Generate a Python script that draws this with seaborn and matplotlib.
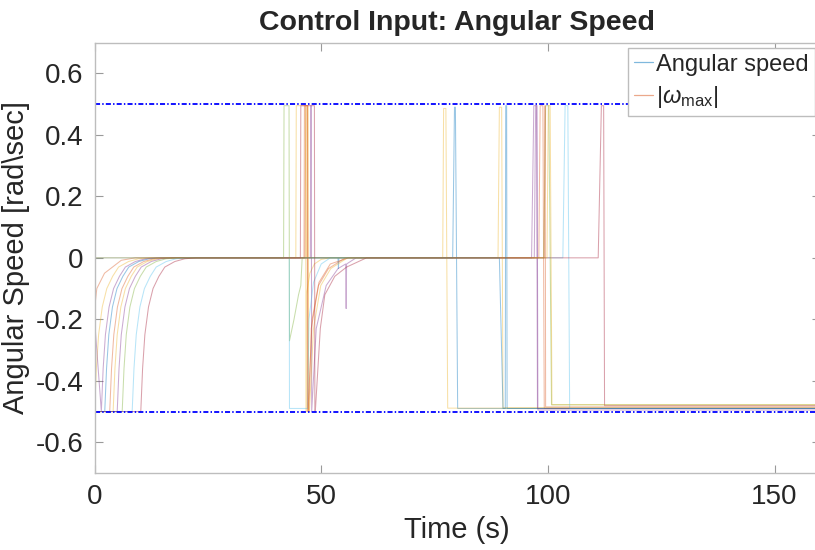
import matplotlib
matplotlib.use("Agg")
import matplotlib.pyplot as plt
from matplotlib.lines import Line2D
from matplotlib.ticker import FuncFormatter
import pandas as pd
import seaborn as sns

# MATLAB default line colours
C_BLUE, C_ORANGE, C_YELLOW = "#0072BD", "#D95319", "#EDB120"
C_PURPLE, C_GREEN, C_CYAN, C_RED = "#7E2F8E", "#77AC30", "#4DBEEE", "#A2142F"

w_max = 0.5

# angular speed traces, one per robot (time [s], omega [rad/s])
t_01 = [0, 2.25, 2.65, 3.15, 3.95, 4.95, 6.25, 7.55, 9.75, 12.0, 14.5, 53.7, 53.8, 53.9, 79.0, 79.4, 79.6, 80.1, 160]
w_01 = [-0.5, -0.5, -0.36, -0.25, -0.16, -0.1, -0.06, -0.03, -0.012, -0.003, 0, 0, -0.035, 0, 0, 0.49, 0.49, -0.49, -0.49]

t_02 = [0, 3.35, 3.75, 4.25, 5.05, 6.05, 7.35, 8.65, 10.85, 13.1, 15.6, 46.4, 46.6, 47.0, 47.1, 47.3, 47.8, 49.4, 51.6, 55.3,
        98.0, 98.3, 98.9, 99.2, 160]
w_02 = [-0.5, -0.5, -0.36, -0.25, -0.16, -0.1, -0.06, -0.03, -0.012, -0.003, 0, 0, 0.495, 0.495, -0.5, -0.5, -0.23, -0.09, -0.035, 0,
        0, 0.495, 0.495, -0.49, -0.49]

t_03 = [0, 0.4, 0.9, 1.7, 2.7, 4.0, 5.3, 7.5, 9.7, 12.2, 44.4, 44.5, 46.5, 46.7, 46.75, 47.5, 48.5, 50.0, 52.0,
        76.8, 77.0, 77.5, 77.9, 160]
w_03 = [-0.5, -0.36, -0.25, -0.16, -0.1, -0.06, -0.03, -0.012, -0.003, 0, 0, 0.495, 0.495, -0.5, -0.12, -0.05, -0.02, -0.005, 0,
        0, 0.486, 0.486, -0.489, -0.489]

t_04 = [0, 1.5, 1.9, 2.4, 3.2, 4.2, 5.5, 6.8, 9.0, 11.2, 13.7, 47.6, 47.7, 47.8, 47.9, 48.9, 51.1, 53.7, 55.4, 55.5, 55.6, 57.7,
        96.4, 96.9, 97.6, 97.8, 160]
w_04 = [-0.2, -0.5, -0.36, -0.25, -0.16, -0.1, -0.06, -0.03, -0.012, -0.003, 0, 0, 0.495, 0.495, -0.5, -0.23, -0.09, -0.035, -0.02, -0.165, -0.02, 0,
        0, 0.495, 0.495, -0.495, -0.495]

t_05 = [0, 4.1, 4.5, 5.0, 5.8, 6.8, 8.1, 9.4, 11.6, 13.8, 16.3, 46.8, 46.9, 47.1, 47.2, 47.4, 48.3, 49.9, 52.1, 55.8,
        89.0, 89.3, 89.8, 90.1, 160]
w_05 = [-0.5, -0.5, -0.36, -0.25, -0.16, -0.1, -0.06, -0.03, -0.012, -0.003, 0, 0, 0.495, 0.495, -0.5, -0.5, -0.23, -0.09, -0.035, 0,
        0, 0.49, 0.49, -0.488, -0.488]

t_06 = [0, 5.0, 5.4, 5.9, 6.7, 7.7, 9.0, 10.3, 12.5, 14.7, 17.2, 97.0, 97.3, 97.5, 97.7, 160]
w_06 = [-0.5, -0.5, -0.36, -0.25, -0.16, -0.1, -0.06, -0.03, -0.012, -0.003, 0, 0, 0.495, 0.495, -0.49, -0.49]

t_07 = [0, 6.1, 6.5, 7.0, 7.8, 8.8, 10.1, 11.4, 13.6, 15.8, 18.3, 41.7, 41.8, 42.9, 43.0, 44.0, 45.0, 45.5, 45.8,
        99.1, 99.5, 100.2, 100.8, 160]
w_07 = [-0.5, -0.5, -0.36, -0.25, -0.16, -0.1, -0.06, -0.03, -0.012, -0.003, 0, 0, 0.495, 0.495, -0.27, -0.2, -0.12, -0.09, 0,
        0, 0.495, 0.495, -0.478, -0.478]

t_08 = [0, 8.3, 8.7, 9.2, 10.0, 11.0, 12.3, 13.6, 15.8, 18.0, 20.5, 42.95, 43.0, 47.0, 47.3, 48.3, 50.0, 52.0,
        103.3, 103.8, 104.4, 104.8, 160]
w_08 = [-0.5, -0.5, -0.36, -0.25, -0.16, -0.1, -0.06, -0.03, -0.012, -0.003, 0, 0, -0.49, -0.49, -0.2, -0.08, -0.02, 0,
        0, 0.495, 0.495, -0.49, -0.49]

t_09 = [0, 10.2, 10.6, 11.1, 11.9, 12.9, 14.2, 15.5, 17.7, 19.9, 22.4, 45.4, 45.5, 48.5, 48.6, 48.7, 49.8, 50.8, 53.0, 55.6, 60.0,
        111.1, 111.8, 112.3, 112.5, 160]
w_09 = [-0.5, -0.5, -0.36, -0.25, -0.16, -0.1, -0.06, -0.03, -0.012, -0.003, 0, 0, 0.495, 0.495, -0.5, -0.5, -0.23, -0.12, -0.06, -0.03, 0,
        0, 0.495, 0.495, -0.481, -0.481]

t_10 = [0, 0.05, 0.5, 2.2, 5.9, 9.0, 46.2, 46.3, 46.9, 47.0, 47.1, 48.0, 49.5, 52.0, 56.0,
        99.2, 99.35, 99.4, 99.5, 160]
w_10 = [-0.48, -0.16, -0.1, -0.05, -0.008, 0, 0, 0.495, 0.495, -0.5, -0.5, -0.2, -0.08, -0.02, 0,
        0, 0.495, 0.495, -0.485, -0.485]

t_11 = [0, 89.3, 90.1, 90.6, 90.7, 90.9, 91.0, 160]
w_11 = [0, 0, -0.49, -0.49, 0.495, 0.495, -0.49, -0.49]

t_12 = [0, 99.8, 100.1, 100.5, 100.9, 160]
w_12 = [0, 0, 0.495, 0.495, -0.478, -0.478]

trace_t = [t_01, t_02, t_03, t_04, t_05, t_06, t_07, t_08, t_09, t_10, t_11, t_12]
trace_w = [w_01, w_02, w_03, w_04, w_05, w_06, w_07, w_08, w_09, w_10, w_11, w_12]
trace_c = [C_BLUE, C_ORANGE, C_YELLOW, C_PURPLE, C_YELLOW, C_PURPLE,
           C_GREEN, C_CYAN, C_RED, C_ORANGE, C_BLUE, C_YELLOW]

legend_labels = ["Angular speed", r"|$\omega_{\rm max}$|"]

frames = []
for i, (tt, ww) in enumerate(zip(trace_t, trace_w)):
    frames.append(pd.DataFrame({"t": tt, "w": ww, "trace": f"r{i + 1:02d}"}))
df = pd.concat(frames, ignore_index=True)
names = [f"r{i + 1:02d}" for i in range(len(trace_t))]
palette = dict(zip(names, trace_c))

sns.set_theme(style="ticks")
plt.rcParams["font.family"] = ["Liberation Sans", "DejaVu Sans"]
plt.rcParams["axes.unicode_minus"] = False
plt.rcParams["mathtext.fontset"] = "custom"
plt.rcParams["mathtext.rm"] = "Liberation Sans"
plt.rcParams["mathtext.it"] = "Liberation Sans:italic"

fig = plt.figure(figsize=(8.15, 5.5), dpi=100)
ax = fig.add_axes([0.116, 0.14, 0.890, 0.7824])

sns.lineplot(data=df, x="t", y="w", hue="trace", hue_order=names, palette=palette,
             sort=False, estimator=None, linewidth=0.75, alpha=0.4, legend=False, ax=ax)

# saturation limits |w_max|
ax.axhline(w_max, color="blue", linestyle=(0, (2.8, 1.2, 0.8, 1.2)), linewidth=1.3)
ax.axhline(-w_max, color="blue", linestyle=(0, (2.8, 1.2, 0.8, 1.2)), linewidth=1.3)

ax.set_xlim(0, 160)
ax.set_ylim(-0.7, 0.7)
ax.set_xticks([0, 50, 100, 150])
ax.set_yticks([-0.6, -0.4, -0.2, 0, 0.2, 0.4, 0.6])
ax.yaxis.set_major_formatter(FuncFormatter(lambda v, p: f"{round(v, 2) + 0:g}"))
ax.tick_params(direction="in", length=6, width=0.8, color="#9a9a9a",
               top=True, right=True, labelsize=20, labelcolor="#262626", pad=8)
for s in ax.spines.values():
    s.set_color("#bdbdbd")
    s.set_linewidth(1.0)

ax.set_title("Control Input: Angular Speed", fontsize=20.5, fontweight="bold", pad=9)
ax.set_xlabel("Time (s)", fontsize=21, color="#262626", labelpad=4)
ax.set_ylabel("Angular Speed [rad\\sec]", fontsize=21, color="#262626", labelpad=4)

# MATLAB labels the first two line objects
handles = [Line2D([], [], color=c, linewidth=0.9, alpha=0.5) for c in trace_c[:2]]
leg = ax.legend(handles, legend_labels,
                loc="upper right", bbox_to_anchor=(0.993, 0.988), fontsize=17,
                fancybox=False, framealpha=1, edgecolor="#bdbdbd",
                handlelength=0.8, handletextpad=0.15, borderpad=0.25,
                labelspacing=0.35, borderaxespad=0)
leg.get_frame().set_linewidth(1.0)

fig.savefig("out.png", dpi=100)
